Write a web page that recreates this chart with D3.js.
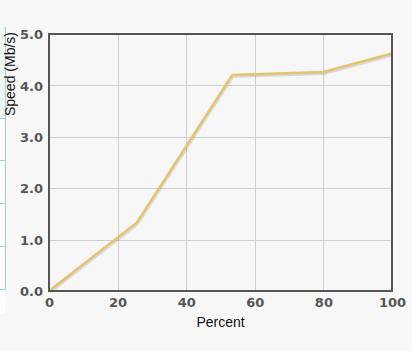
<!DOCTYPE html>
<html><head><meta charset="utf-8">
<script src="https://cdn.jsdelivr.net/npm/d3@7"></script>
<style>
html,body{margin:0;padding:0;background:#f8f8f8;}
svg{display:block;}
</style></head>
<body>
<script>
const percent = [0, 25.6, 53.4, 80, 100];
const speed = [0, 1.33, 4.2, 4.26, 4.62];
const xTicks = [0, 20, 40, 60, 80, 100];
const yTicks = [0, 1, 2, 3, 4, 5];
const xTitle = "Percent";
const yTitle = "Speed (Mb/s)";

const W = 412, H = 351;
const m = {left: 49, right: 20, top: 34, bottom: 60};
const svg = d3.select("body").append("svg").attr("width", W).attr("height", H);

// partial side panel at left edge
const side = svg.append("g");
side.append("rect").attr("x", -1).attr("y", 27).attr("width", 6).attr("height", 286).attr("fill", "#ffffff");
side.append("rect").attr("x", -1).attr("y", 27).attr("width", 6).attr("height", 91).attr("fill", "#eef7f1");
side.append("line").attr("x1", 5.5).attr("x2", 5.5).attr("y1", 27).attr("y2", 289.5).attr("stroke", "#9ccfe0");
[118, 160, 203, 246, 289].forEach(y => side.append("line").attr("x1", 0).attr("x2", 5.5).attr("y1", y + 0.5).attr("y2", y + 0.5).attr("stroke", "#9ccfe0"));

const x = d3.scaleLinear().domain([0, 100]).range([m.left, W - m.right]);
const y = d3.scaleLinear().domain([0, 5]).range([H - m.bottom, m.top]);

svg.append("rect").attr("x", x(0)).attr("y", y(5)).attr("width", x(100) - x(0)).attr("height", y(0) - y(5)).attr("fill", "#f7f7f7");

// grid
svg.append("g").selectAll("line").data(xTicks.slice(1, -1)).join("line")
  .attr("x1", d => Math.round(x(d)) + 0.5).attr("x2", d => Math.round(x(d)) + 0.5)
  .attr("y1", y(5)).attr("y2", y(0)).attr("stroke", "#cfcfcf").attr("stroke-width", 1);
svg.append("g").selectAll("line").data(yTicks.slice(1, -1)).join("line")
  .attr("y1", d => Math.round(y(d)) + 0.5).attr("y2", d => Math.round(y(d)) + 0.5)
  .attr("x1", x(0)).attr("x2", x(100)).attr("stroke", "#cfcfcf").attr("stroke-width", 1);

// axes labels via d3 axes
const xAxis = svg.append("g").attr("transform", `translate(0,${y(0)})`)
  .call(d3.axisBottom(x).tickValues(xTicks).tickFormat(d3.format("d")).tickSize(0).tickPadding(6));
const yAxis = svg.append("g").attr("transform", `translate(${x(0)},0)`)
  .call(d3.axisLeft(y).tickValues(yTicks).tickFormat(d3.format(".1f")).tickSize(0).tickPadding(6));
[xAxis, yAxis].forEach(a => {
  a.select(".domain").remove();
  a.selectAll("text").attr("font-family", "Verdana, 'DejaVu Sans', sans-serif")
    .attr("font-weight", "bold").attr("font-size", 13).attr("fill", "#555");
});
yAxis.selectAll("text").attr("dy", "0.36em");
xAxis.selectAll("text").attr("dy", "0.8em");

// line with shadow
const line = d3.line().x((d, i) => x(percent[i])).y(d => y(d));
svg.append("path").datum(speed).attr("d", line).attr("fill", "none")
  .attr("stroke", "rgba(0,0,0,0.12)").attr("stroke-width", 3).attr("transform", "translate(0.5,1.5)")
  .attr("stroke-linejoin", "round");
svg.append("path").datum(speed).attr("d", line).attr("fill", "none")
  .attr("stroke", "#e6c36c").attr("stroke-width", 2.5).attr("stroke-linejoin", "round");

// frame
svg.append("rect").attr("x", x(0)).attr("y", y(5)).attr("width", x(100) - x(0)).attr("height", y(0) - y(5))
  .attr("fill", "none").attr("stroke", "#555").attr("stroke-width", 2);

// titles
svg.append("text").attr("x", (x(0) + x(100)) / 2).attr("y", 327).attr("text-anchor", "middle")
  .attr("font-family", "Arial, 'Liberation Sans', sans-serif").attr("font-size", 14).attr("fill", "#111").text(xTitle);
svg.append("text").attr("transform", "translate(15,32) rotate(-90)").attr("text-anchor", "end")
  .attr("font-family", "Arial, 'Liberation Sans', sans-serif").attr("font-size", 14).attr("fill", "#111").text(yTitle);
</script>
</body></html>
